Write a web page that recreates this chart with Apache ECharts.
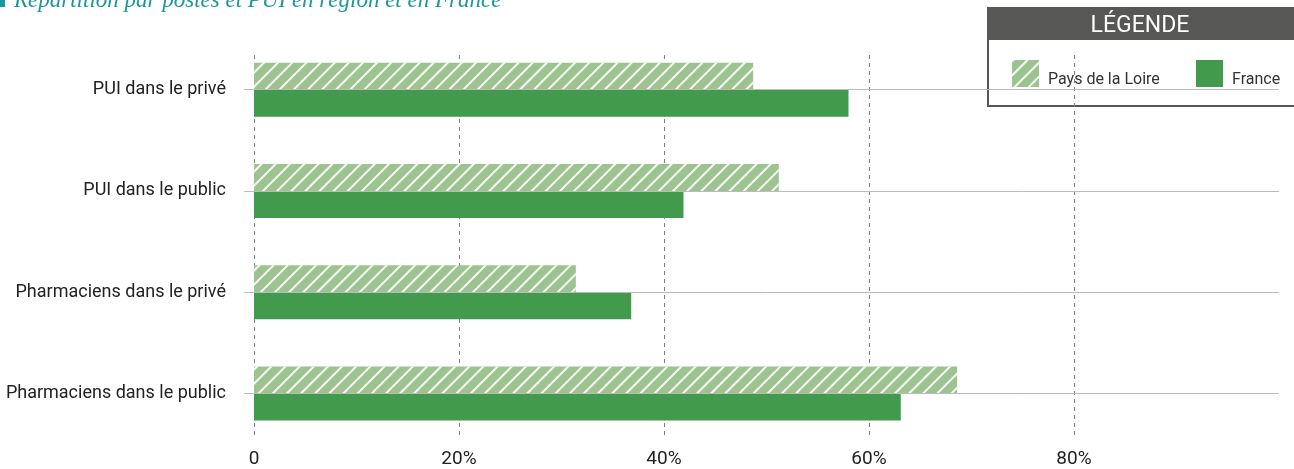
<!DOCTYPE html>
<html>
<head>
<meta charset="utf-8">
<script src="https://cdn.jsdelivr.net/npm/echarts@6/dist/echarts.min.js"></script>
<style>
  html, body { margin: 0; padding: 0; background: #fff; }
  #chart { width: 1294px; height: 469px; }
</style>
</head>
<body>
<div id="chart"></div>
<script>
// données (en %)
const categories = ['PUI dans le privé', 'PUI dans le public', 'Pharmaciens dans le privé', 'Pharmaciens dans le public']
const regionValues = [48.7, 51.2, 31.4, 68.6]   // Pays de la Loire (hachuré)
const franceValues = [58.0, 41.9, 36.8, 63.1]   // France (plein)
const xTicks = [0, 20, 40, 60, 80]

const teal = '#1b979e'
const hatchColor = '#9dc490'
const solidColor = '#429a4c'
const font = 'Roboto'

const hatchDecal = {
    symbol: 'rect',
    symbolSize: 1,
    color: 'rgba(255,255,255,0.9)',
    dashArrayX: [1, 0],
    dashArrayY: [2, 8],
    rotation: -Math.PI / 4
}

const ec = echarts.init(document.getElementById('chart'))

// texte de légende un peu plus bas que le centre du carré
const legendText = {
    fontSize: 16, color: '#333', padding: [0, 0, 0, 4],
    rich: { t: { fontSize: 16, color: '#333', padding: [13, 0, 0, 0] } }
}

ec.setOption({
    animation: false,
    textStyle: { fontFamily: font },
    grid: [
        { left: 254, right: 15, top: 39, bottom: 21 },   // barres
        { left: 254, right: 15, top: 55, bottom: 32 }    // lignes verticales pointillées
    ],
    legend: [
        {
            data: ['Pays de la Loire'],
            left: 1012, top: 60, padding: 0,
            itemWidth: 27, itemHeight: 27,
            icon: 'rect',
            formatter: '{t|{name}}',
            textStyle: legendText
        },
        {
            data: ['France'],
            left: 1196, top: 60, padding: 0,
            itemWidth: 27, itemHeight: 27,
            icon: 'rect',
            formatter: '{t|{name}}',
            textStyle: legendText
        }
    ],
    xAxis: [
        {
            gridIndex: 0,
            type: 'value',
            min: 0, max: 100, interval: 20,
            axisLine: { show: false },
            axisTick: { show: false },
            splitLine: { show: false },
            axisLabel: {
                fontSize: 19, color: '#222', margin: 6,
                formatter: v => xTicks.indexOf(v) < 0 ? '' : (v === 0 ? '0' : v + '%')
            }
        },
        {
            gridIndex: 1,
            type: 'value',
            min: 0, max: 100, interval: 20,
            axisLine: { show: false },
            axisTick: { show: false },
            axisLabel: { show: false },
            splitLine: {
                show: true,
                showMaxLine: false,
                lineStyle: { color: '#808080', type: [4, 4], width: 1 }
            }
        }
    ],
    yAxis: [
        {
            gridIndex: 0,
            type: 'category',
            data: categories,
            inverse: true,
            axisLine: { show: false },
            axisTick: { show: true, alignWithLabel: true, length: 10, lineStyle: { color: '#bbb' } },
            axisLabel: { fontSize: 18, color: '#222', margin: 28 }
        },
        {
            gridIndex: 1,
            type: 'value',
            min: 0, max: 1,
            show: false
        }
    ],
    graphic: [
        // titre (coupé en haut comme sur l'original)
        { type: 'rect', shape: { x: 0, y: 0, width: 5, height: 7 }, style: { fill: teal } },
        {
            type: 'text', x: 14, y: 1,
            style: {
                text: 'Répartition par postes et PUI en région et en France',
                fill: teal, font: 'italic 23px "Liberation Serif"', verticalAlign: 'middle'
            }
        },
        // boîte de légende
        {
            type: 'rect', z: -1,
            shape: { x: 988, y: 8, width: 330, height: 98 },
            style: { fill: '#fff', stroke: '#575756', lineWidth: 2 }
        },
        {
            type: 'rect', z: -1,
            shape: { x: 988, y: 8, width: 330, height: 32 },
            style: { fill: '#575756' }
        },
        {
            type: 'text', x: 1140, y: 26,
            style: {
                text: 'LÉGENDE', fill: '#fff', font: '23px Roboto',
                align: 'center', verticalAlign: 'middle'
            }
        }
    ],
    series: [
        {
            // lignes horizontales au centre de chaque catégorie
            type: 'line',
            xAxisIndex: 0, yAxisIndex: 0,
            data: [],
            silent: true,
            z: 1,
            markLine: {
                silent: true,
                symbol: 'none',
                label: { show: false },
                lineStyle: { color: '#bbb', type: 'solid', width: 1 },
                data: categories.map(c => ({ yAxis: c }))
            }
        },
        {
            name: 'Pays de la Loire',
            type: 'bar',
            xAxisIndex: 0, yAxisIndex: 0,
            z: 3,
            barWidth: 27,
            barGap: '0%',
            itemStyle: { color: hatchColor, decal: hatchDecal },
            data: regionValues
        },
        {
            name: 'France',
            type: 'bar',
            xAxisIndex: 0, yAxisIndex: 0,
            z: 3,
            barWidth: 27,
            barGap: '0%',
            itemStyle: { color: solidColor },
            data: franceValues
        }
    ]
})
</script>
</body>
</html>
